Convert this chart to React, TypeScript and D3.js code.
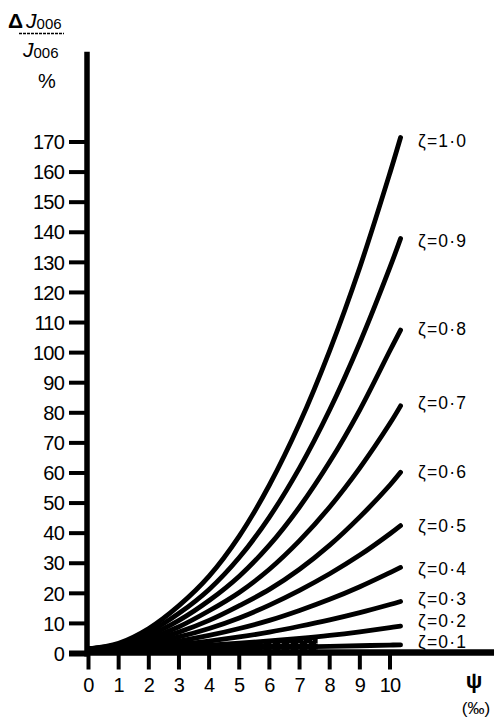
import React from 'react';
import * as d3 from 'd3';

const psi = [0, 1, 2, 3, 4, 5, 6, 7, 8, 9, 10, 10.35];

// delta J006 / J006 in %, one list per zeta
const zeta10 = [1.5, 3.4, 8.3, 15.9, 25.7, 39.0, 56.0, 76.5, 100.7, 128.4, 159.8, 171.5];
const zeta09 = [1.5, 3.07, 7.09, 13.35, 21.3, 31.9, 45.35, 61.7, 81.0, 103.3, 128.4, 137.9];
const zeta08 = [1.5, 2.77, 6.0, 11.0, 17.6, 25.7, 36.0, 48.7, 63.7, 81.0, 100.7, 107.5];
const zeta07 = [1.5, 2.5, 5.0, 8.9, 14.2, 20.3, 28.0, 37.5, 48.7, 61.7, 76.5, 82.3];
const zeta06 = [1.5, 2.26, 4.15, 7.1, 11.0, 15.9, 21.3, 28.0, 36.0, 45.4, 56.0, 60.2];
const zeta05 = [1.5, 2.06, 3.4, 5.5, 8.3, 11.8, 16.1, 21.0, 26.5, 32.7, 39.8, 42.5];
const zeta04 = [1.5, 1.88, 2.77, 4.15, 6.0, 8.3, 11.0, 14.3, 18.0, 22.2, 26.9, 28.6];
const zeta03 = [1.5, 1.74, 2.26, 3.07, 4.15, 5.49, 7.09, 9.05, 11.2, 13.6, 16.3, 17.3];
const zeta02 = [1.5, 1.63, 1.88, 2.26, 2.77, 3.4, 4.15, 5.02, 6.02, 7.22, 8.6, 9.1];
const zeta01 = [1.5, 1.54, 1.6, 1.68, 1.78, 1.9, 2.04, 2.2, 2.38, 2.58, 2.8, 2.88];

const seriesValues = [zeta10, zeta09, zeta08, zeta07, zeta06, zeta05, zeta04, zeta03, zeta02, zeta01];
const seriesNames = ['1·0', '0·9', '0·8', '0·7', '0·6', '0·5', '0·4', '0·3', '0·2', '0·1'];
// small vertical nudges of the labels, as set in the original
const labelShift = [3, 2, -1, -3, -1, 0, 1, -3, -5, -3.5];

const yTicks = d3.range(0, 171, 10);
const xTicks = d3.range(0, 11, 1);

const W = 497, H = 719;
const FONT = '"Liberation Sans", Arial, Helvetica, sans-serif';

export default function App() {
  const x = d3.scaleLinear().domain([0, 10]).range([88.5, 390]);
  const y = d3.scaleLinear().domain([0, 170]).range([653.5, 142]);

  const line = d3.line<number>()
    .x((d, i) => x(psi[i]))
    .y(d => y(d))
    .curve(d3.curveCatmullRom.alpha(0.5));

  const area = d3.area<number>()
    .x((d, i) => x(psi[i]))
    .y0(y(0))
    .y1(d => y(d))
    .curve(d3.curveCatmullRom.alpha(0.5));

  const axisX = x(0) - 1.5;

  return (
    <svg width={W} height={H} style={{ position: 'absolute', left: 0, top: 0, background: '#fff' }}
      fontFamily={FONT}>
      <defs>
        <pattern id="speck" width="9" height="6" patternUnits="userSpaceOnUse">
          <rect width="9" height="6" fill="#000" />
          <circle cx="2" cy="1.5" r="0.5" fill="#fff" />
          <circle cx="6.5" cy="4.4" r="0.4" fill="#fff" />
        </pattern>
        <clipPath id="nearOrigin">
          <rect x={x(0)} y={0} width={x(2.4) - x(0)} height={H} />
        </clipPath>
        <clipPath id="lowBand">
          <rect x={x(0)} y={0} width={x(7.6) - x(0)} height={H} />
        </clipPath>
      </defs>

      {/* stippled dark region where the curves converge */}
      <path d={area(zeta10) || ''} fill="url(#speck)" clipPath="url(#nearOrigin)" />
      <path d={area(zeta02) || ''} fill="url(#speck)" clipPath="url(#lowBand)" />

      {/* curves */}
      {seriesValues.map((vals, k) => (
        <path key={k} d={line(vals) || ''} fill="none" stroke="#000" strokeWidth={4.8}
          strokeLinecap="round" strokeLinejoin="round" />
      ))}

      {/* axes */}
      <line x1={axisX} x2={axisX} y1={y(200)} y2={y(0) + 3} stroke="#000" strokeWidth={5.5} />
      <line x1={axisX} x2={x(13.45)} y1={y(0) - 1} y2={y(0) - 1} stroke="#000" strokeWidth={6.5} />

      {yTicks.map(t => (
        <g key={t}>
          <line x1={69} x2={axisX} y1={y(t)} y2={y(t)} stroke="#000" strokeWidth={t === 0 ? 6 : 4} />
          <text x={64} y={y(t)} dy="0.36em" textAnchor="end" fontSize={20} letterSpacing={-0.8}>{t}</text>
        </g>
      ))}

      {xTicks.map(t => (
        <g key={t}>
          <line x1={x(t)} x2={x(t)} y1={y(0)} y2={y(0) + 16} stroke="#000" strokeWidth={4} />
          <text x={x(t)} y={692} textAnchor="middle" fontSize={20} letterSpacing={-0.8}>{t}</text>
        </g>
      ))}

      {/* curve labels */}
      {seriesValues.map((vals, k) => (
        <text key={k} x={418} y={y(vals[vals.length - 1]) + labelShift[k]} dy="0.36em"
          fontSize={17.5} letterSpacing={1.2}>
          ζ=<tspan>{seriesNames[k]}</tspan>
        </text>
      ))}

      {/* y axis title */}
      <text x={8} y={28} fontSize={21}>
        <tspan fontWeight="bold">Δ</tspan>
        <tspan fontStyle="italic" dx={3}>J</tspan>
        <tspan fontSize={15} dy={1}>006</tspan>
      </text>
      <line x1={19} x2={64} y1={33.5} y2={33.5} stroke="#000" strokeWidth={1.5} strokeDasharray="3,1" />
      <text x={23} y={57} fontSize={21}>
        <tspan fontStyle="italic">J</tspan>
        <tspan fontSize={15} dy={1}>006</tspan>
      </text>
      <text x={47} y={88} textAnchor="middle" fontSize={20}>%</text>

      {/* x axis title */}
      <text x={474} y={688} textAnchor="middle" fontSize={22} fontWeight="bold">ψ</text>
      <text x={476} y={714} textAnchor="middle" fontSize={17}>(‰)</text>
    </svg>
  );
}
